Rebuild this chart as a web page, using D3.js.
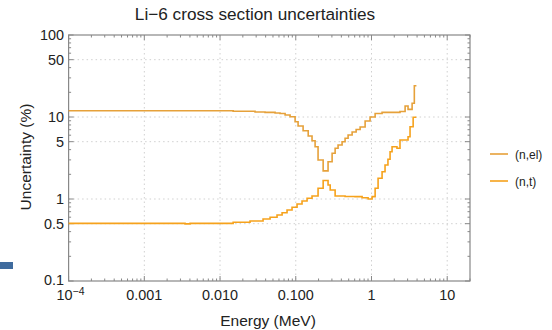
<!DOCTYPE html>
<html><head><meta charset="utf-8">
<script src="https://cdn.jsdelivr.net/npm/d3@7"></script>
<style>body{margin:0;background:#fff;} svg{display:block;font-family:"Liberation Sans",Arial,sans-serif;}</style>
</head><body>
<svg id="c" width="552" height="330"></svg>
<script>
// Step series: energy (MeV) at start of each step, value (%) of that step
const elEnergy = [1e-4, 0.0149, 0.029, 0.0393, 0.0533, 0.062, 0.0723, 0.0841, 0.098, 0.1073, 0.125, 0.146, 0.164, 0.18, 0.197, 0.23, 0.267, 0.302, 0.331, 0.362, 0.409, 0.448, 0.491, 0.555, 0.627, 0.708, 0.824, 0.958, 1.117, 1.38, 2.05, 2.38, 2.78, 3.04, 3.44, 3.68, 3.92];
const elValue  = [11.9, 11.74, 11.5, 11.4, 11.19, 11.03, 10.6, 10.09, 8.76, 7.76, 6.8, 5.86, 5.14, 4.34, 2.99, 2.2, 2.85, 3.61, 4.15, 4.56, 5.0, 5.5, 6.03, 6.56, 7.04, 7.55, 8.93, 10.0, 11.03, 11.4, 11.4, 11.67, 13.6, 12.4, 14.7, 24.1, 24.1];
const ntEnergy = [1e-4, 0.00345, 0.00402, 0.0149, 0.0249, 0.037, 0.0458, 0.0566, 0.066, 0.0767, 0.0893, 0.104, 0.121, 0.141, 0.164, 0.197, 0.23, 0.267, 0.285, 0.331, 0.448, 0.607, 0.752, 0.902, 1.02, 1.117, 1.222, 1.38, 1.51, 1.65, 1.76, 1.87, 2.17, 2.38, 3.04, 3.23, 3.55, 3.92];
const ntValue  = [0.505, 0.498, 0.505, 0.52, 0.539, 0.57, 0.598, 0.638, 0.681, 0.734, 0.792, 0.869, 0.945, 1.02, 1.088, 1.35, 1.68, 1.48, 1.29, 1.088, 1.073, 1.07, 1.034, 1.0, 1.07, 1.35, 1.79, 2.15, 2.6, 3.05, 3.77, 4.34, 4.15, 5.24, 5.75, 7.62, 9.92, 9.92];
const seriesNames = ["(n,el)", "(n,t)"];
const seriesColors = ["#e6a13a", "#f6a21c"];
const xTicks = [1e-4, 0.001, 0.01, 0.1, 1, 10];
const xTickLabels = ["10^-4", "0.001", "0.010", "0.100", "1", "10"];
const yTicks = [0.1, 0.5, 1, 5, 10, 50, 100];
const yTickLabels = ["0.1", "0.5", "1", "5", "10", "50", "100"];
const yGrid = [0.5, 1, 5, 10, 50];
const xGrid = [0.001, 0.01, 0.1, 1, 10];

const svg = d3.select("#c");
const L = 68.6, R = 470, T = 35, B = 281;
const x = d3.scaleLog().domain([1e-4, 20]).range([L, R]);
const y = d3.scaleLog().domain([0.1, 100]).range([B, T]);

// stray blue mark
svg.append("rect").attr("x", 0).attr("y", 262).attr("width", 13).attr("height", 7).attr("fill", "#3f6b9e");

// grid
const g = svg.append("g");
g.selectAll(".gx").data(xGrid).join("line")
  .attr("x1", d => x(d)).attr("x2", d => x(d)).attr("y1", T).attr("y2", B)
  .attr("stroke", "#d0d0d0").attr("stroke-width", 1).attr("stroke-dasharray", "1.5,3");
g.selectAll(".gy").data(yGrid).join("line")
  .attr("y1", d => y(d)).attr("y2", d => y(d)).attr("x1", L).attr("x2", R)
  .attr("stroke", "#d0d0d0").attr("stroke-width", 1).attr("stroke-dasharray", "1.5,3");

// minor ticks
function minors(lo, hi) {
  const out = [];
  for (let e = Math.floor(Math.log10(lo)); e <= Math.ceil(Math.log10(hi)); e++)
    for (let m = 1; m < 10; m++) { const v = m * Math.pow(10, e); if (v >= lo && v <= hi) out.push(v); }
  return out;
}
const xMin = minors(1e-4, 20), yMin = minors(0.1, 100);
const tk = svg.append("g").attr("stroke", "#888").attr("stroke-width", 1);
xMin.forEach(v => {
  const major = xTicks.includes(v); const len = major ? 5 : 2.5;
  tk.append("line").attr("x1", x(v)).attr("x2", x(v)).attr("y1", B).attr("y2", B - len);
  tk.append("line").attr("x1", x(v)).attr("x2", x(v)).attr("y1", T).attr("y2", T + len);
});
yMin.forEach(v => {
  const major = yTicks.includes(v); const len = major ? 5 : 2.5;
  tk.append("line").attr("y1", y(v)).attr("y2", y(v)).attr("x1", L).attr("x2", L + len);
  tk.append("line").attr("y1", y(v)).attr("y2", y(v)).attr("x1", R).attr("x2", R - len);
});
svg.append("rect").attr("x", L).attr("y", T).attr("width", R - L).attr("height", B - T)
  .attr("fill", "none").attr("stroke", "#888").attr("stroke-width", 1.2);

// tick labels
const xl = svg.append("g").attr("font-size", 14.4).attr("fill", "#222").attr("text-anchor", "middle");
xTicks.forEach((v, i) => {
  const lab = xTickLabels[i];
  const t = xl.append("text").attr("x", x(v) + (lab.includes("^") ? 2 : 0)).attr("y", 300);
  if (lab.includes("^")) {
    const [b, e] = lab.split("^");
    t.append("tspan").text(b);
    t.append("tspan").attr("dy", -5).attr("font-size", 10.5).text(e.replace("-", "\u2212"));
  } else t.text(lab);
});
const yl = svg.append("g").attr("font-size", 14.4).attr("fill", "#222").attr("text-anchor", "end");
yTicks.forEach((v, i) => {
  yl.append("text").attr("x", 64).attr("y", y(v) + 5 - (v === 0.1 ? 1.5 : 0)).text(yTickLabels[i]);
});

// titles
svg.append("text").attr("x", 255).attr("y", 20).attr("text-anchor", "middle").attr("font-size", 17.2).attr("fill", "#222")
  .text("Li\u22126 cross section uncertainties");
svg.append("text").attr("x", 268).attr("y", 326).attr("text-anchor", "middle").attr("font-size", 15.5).attr("fill", "#222")
  .text("Energy (MeV)");
svg.append("text").attr("transform", "translate(31,157) rotate(-90)").attr("text-anchor", "middle").attr("font-size", 15.5).attr("fill", "#222")
  .text("Uncertainty (%)");

// series
const line = d3.line().x(d => x(d[0])).y(d => y(d[1])).curve(d3.curveStepAfter);
const data = [d3.zip(elEnergy, elValue), d3.zip(ntEnergy, ntValue)];
data.forEach((d, i) => {
  svg.append("path").datum(d).attr("d", line).attr("fill", "none")
    .attr("stroke", seriesColors[i]).attr("stroke-width", 1.6).attr("stroke-linejoin", "miter");
});

// legend
seriesNames.forEach((n, i) => {
  const ly = 154 + i * 27;
  svg.append("line").attr("x1", 490).attr("x2", 508).attr("y1", ly).attr("y2", ly)
    .attr("stroke", seriesColors[i]).attr("stroke-width", 1.6);
  svg.append("text").attr("x", 515).attr("y", ly + 4.5).attr("font-size", 12).attr("fill", "#222").text(n);
});
</script>
</body></html>
